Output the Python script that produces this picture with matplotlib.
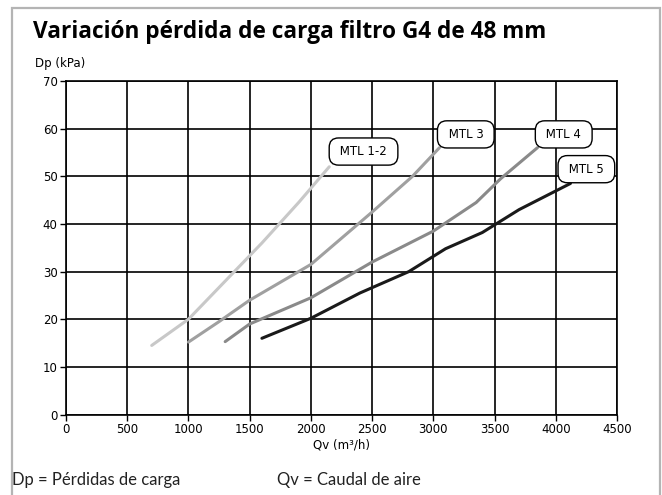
import matplotlib.pyplot as plt
from matplotlib.patches import Rectangle

# Qv (m3/h) vs Dp (kPa)
qv_mtl12 = [700, 1000, 1300, 1600, 1900, 2150]
dp_mtl12 = [14.5, 20.0, 28.0, 36.0, 44.5, 52.0]
qv_mtl3 = [1000, 1250, 1500, 2000, 2500, 2830, 3050]
dp_mtl3 = [15.2, 19.5, 24.0, 31.5, 42.5, 50.0, 56.0]
qv_mtl4 = [1300, 1500, 2000, 2500, 3000, 3350, 3550, 3850]
dp_mtl4 = [15.3, 19.0, 24.5, 32.0, 38.5, 44.5, 49.5, 56.0]
qv_mtl5 = [1600, 2000, 2400, 2800, 3100, 3400, 3700, 4120]
dp_mtl5 = [16.0, 20.2, 25.5, 30.0, 34.8, 38.2, 43.0, 48.5]

labels = ['MTL 1-2', 'MTL 3', 'MTL 4', 'MTL 5']
label_pos = [(2430, 55.2), (3265, 58.8), (4065, 58.8), (4250, 51.5)]
colors = ['#c8c8c8', '#a0a0a0', '#8a8a8a', '#1a1a1a']

xticks = list(range(0, 4501, 500))
yticks = list(range(0, 71, 10))

font = 'DejaVu Sans'
foot = 'Lato'

fig = plt.figure(figsize=(6.62, 4.95), dpi=100)
ax = fig.add_axes([0.0997, 0.1626, 0.8323, 0.6737])

# grey frame round the whole card
fig.patches.append(Rectangle((11.5/662, -0.1), (660-11.5)/662, 1.1 - 8/495,
                             transform=fig.transFigure, fill=False,
                             edgecolor='#b4b4b4', linewidth=1.6))

series = [(qv_mtl12, dp_mtl12), (qv_mtl3, dp_mtl3),
          (qv_mtl4, dp_mtl4), (qv_mtl5, dp_mtl5)]
for (x, y), c, lab, (lx, ly) in zip(series, colors, labels, label_pos):
    ax.plot(x, y, color=c, linewidth=2.2, solid_capstyle='round', zorder=3)
    ax.text(lx, ly, ' ' + lab + ' ', ha='center', va='center', fontsize=8.5,
            family=font, zorder=5, clip_on=False,
            bbox=dict(boxstyle='round,pad=0.6,rounding_size=0.8',
                      facecolor='white', edgecolor='black', linewidth=1.0))

ax.set_xlim(0, 4500)
ax.set_ylim(0, 70)
ax.set_xticks(xticks)
ax.set_yticks(yticks)
ax.grid(True, color='black', linewidth=1.2)
ax.set_axisbelow(True)
for s in ax.spines.values():
    s.set_linewidth(1.2)
ax.tick_params(direction='out', length=4, width=1, labelsize=8.5, pad=2)
for t in ax.get_xticklabels() + ax.get_yticklabels():
    t.set_family(font)
ax.set_xlabel('Qv (m³/h)', fontsize=8.5, family=font, labelpad=2)

fig.text(35/662, 1 - 64/495, 'Dp (kPa)', fontsize=8.5, family=font,
         va='center', ha='left')
fig.text(33/662, 1 - 32/495, 'Variación pérdida de carga filtro G4 de 48 mm',
         fontsize=16.3, fontweight='bold', family='Open Sans',
         va='center', ha='left')
fig.text(12/662, 1 - 480/495, 'Dp = Pérdidas de carga', fontsize=12,
         family=foot, va='center', ha='left', color='#222222')
fig.text(277/662, 1 - 480/495, 'Qv = Caudal de aire', fontsize=12,
         family=foot, va='center', ha='left', color='#222222')

fig.savefig('out.png', dpi=100)
